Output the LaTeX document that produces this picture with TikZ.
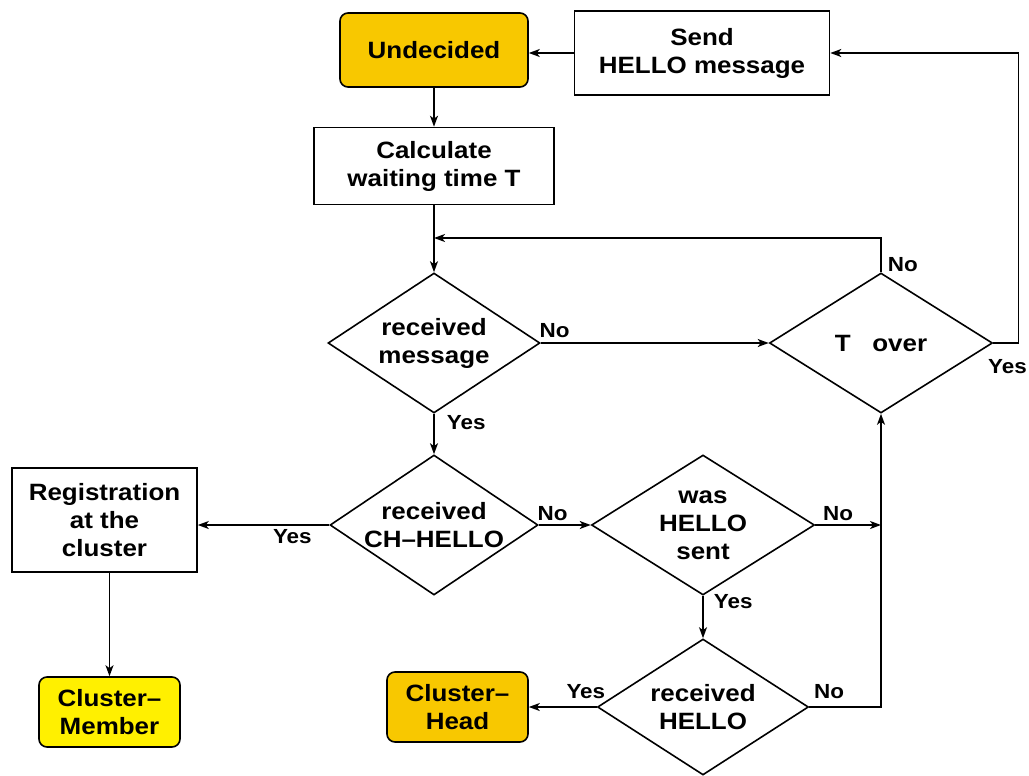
\documentclass[tikz,border=0pt]{standalone}
\usepackage{fontspec}
\setmainfont{Liberation Sans}[FakeStretch=1.1]
\usetikzlibrary{arrows.meta,shapes.geometric,calc}

\definecolor{stategold}{RGB}{248,200,0}
\definecolor{stateyellow}{RGB}{255,240,0}

\begin{document}
\begin{tikzpicture}[
  x=0.5pt,y=-0.5pt,
  font=\fontsize{11.8}{14}\selectfont\bfseries,
  >={Stealth[length=5.5pt,width=4pt,inset=1.5pt]},
  line width=0.8pt,
  box/.style={draw,align=center,inner sep=2pt,fill=white},
  state/.style={box,rounded corners=4pt,fill=stategold},
  decision/.style={draw,diamond,align=center,inner sep=-6pt,fill=white},
  lbl/.style={font=\fontsize{10.2}{12}\selectfont\bfseries,inner sep=0pt,anchor=base west},
  flow/.style={->},
]
\useasboundingbox (0,0) rectangle (1029,776);
% ---- states and actions ----
\node[state,minimum width=94pt,minimum height=37pt] (und) at (434,50) {Undecided};
\node[box,minimum width=127.5pt,minimum height=42pt] (send) at (702,53) {Send\\HELLO message};
\node[box,minimum width=120pt,minimum height=38.5pt] (calc) at (434,166) {Calculate\\waiting time T};
\node[box,minimum width=92.5pt,minimum height=52pt] (reg) at (104.5,520) {Registration\\at the\\cluster};
\node[state,fill=stateyellow,minimum width=70.5pt,minimum height=35pt] (cm) at (109.5,712) {Cluster--\\Member};
\node[state,minimum width=70.5pt,minimum height=35pt] (chd) at (457.5,707) {Cluster--\\Head};
% ---- decisions ----
\node[decision,minimum width=106pt,minimum height=70pt] (recm) at (434,343) {received\\message};
\node[decision,minimum width=111.5pt,minimum height=70pt] (tover) at (881,343) {T\ \ \ over};
\node[decision,minimum width=104pt,minimum height=70pt] (chh) at (434,525) {received\\CH--HELLO};
\node[decision,minimum width=111.5pt,minimum height=70pt] (was) at (703,525) {was\\HELLO\\sent};
\node[decision,minimum width=105.5pt,minimum height=68pt] (rech) at (703,707) {received\\HELLO};
\coordinate (mrg) at (434,238);
% ---- connectors ----
\draw[flow] (send.west) -- (send.west -| und.east);
\draw[flow] (und.south) -- (calc.north);
\draw[flow] (calc.south) -- (recm.north);
\draw[flow] (recm.east) -- (tover.west);
\draw[flow] (tover.north) |- (mrg);
\draw[flow] (tover.east) -- ++(25,0) |- (send.east);
\draw[flow] (recm.south) -- (chh.north);
\draw[flow] (chh.west) -- (reg.east |- chh.west);
\draw[flow] (reg.south -| cm.north) -- (cm.north);
\draw[flow] (chh.east) -- (was.west);
\draw[flow] (was.east) -- (was.east -| tover.south);
\draw[flow] (was.south) -- (rech.north);
\draw[flow] (rech.west) -- (rech.west -| chd.east);
\draw[flow] (rech.east) -| (tover.south);
% ---- branch labels ----
\node[lbl] (no1) at ($(recm.east)+(-2,-6)$) {No};
\node[lbl] (yes1) at ($(recm.south)+(12,16)$) {Yes};
\node[lbl] (no2) at ($(tover.north)+(6,-1)$) {No};
\node[lbl] (yes2) at ($(tover.east)+(-6,30)$) {Yes};
\node[lbl] (yes3) at ($(chh.west)+(-57,18)$) {Yes};
\node[lbl] (no3) at ($(chh.east)+(-2,-5)$) {No};
\node[lbl] (no4) at ($(was.east)+(7,-5)$) {No};
\node[lbl] (yes4) at ($(was.south)+(10,13)$) {Yes};
\node[lbl] (yes5) at ($(rech.west)+(-31,-9)$) {Yes};
\node[lbl] (no5) at ($(rech.east)+(4,-9)$) {No};
\end{tikzpicture}
\end{document}
